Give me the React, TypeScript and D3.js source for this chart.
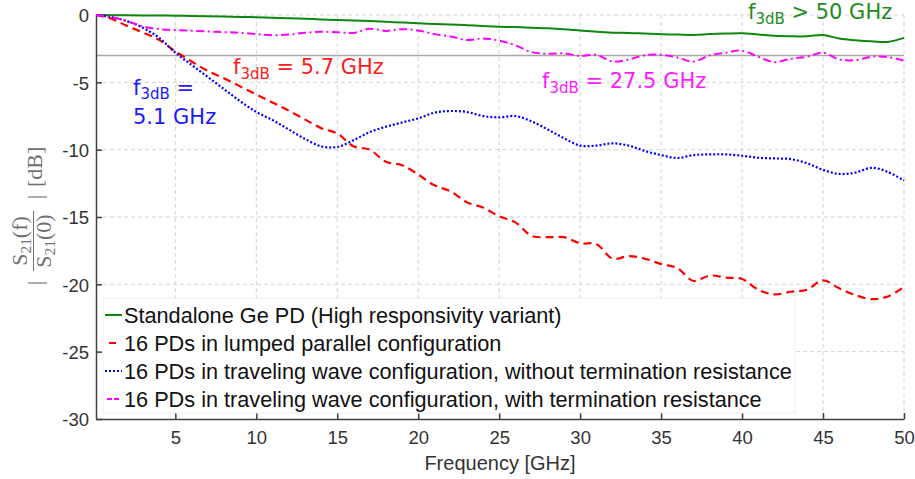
import React, { useEffect, useRef } from 'react';
import * as d3 from 'd3';

// frequency grid [GHz]
const freqGHz = [
  0.1, 1, 2, 3, 4, 5, 6, 7, 8, 9,
  10, 11, 12, 13, 14, 15, 16, 17, 18, 19,
  20, 21, 22, 23, 24, 25, 26, 27, 28, 29,
  30, 31, 32, 33, 34, 35, 36, 37, 38, 39,
  40, 41, 42, 43, 44, 45, 46, 47, 48, 49, 50,
];

// normalised |S21(f)/S21(0)| in dB
const standalone = [
  0, -0.01, -0.02, -0.03, -0.04, -0.05, -0.07, -0.09, -0.11, -0.14,
  -0.17, -0.2, -0.24, -0.28, -0.33, -0.37, -0.41, -0.45, -0.5, -0.56,
  -0.62, -0.66, -0.7, -0.76, -0.82, -0.87, -0.9, -0.95, -0.99, -1.06,
  -1.16, -1.25, -1.31, -1.33, -1.38, -1.43, -1.45, -1.48, -1.42, -1.38,
  -1.36, -1.45, -1.55, -1.58, -1.58, -1.48, -1.75, -1.88, -1.95, -2.0, -1.7,
];

const lumped = [
  0, -0.25, -0.8, -1.3, -1.85, -2.7, -3.45, -4.15, -4.7, -5.3,
  -5.9, -6.5, -7.1, -7.75, -8.4, -8.8, -9.75, -10.0, -10.9, -11.15,
  -11.85, -12.65, -13.1, -13.9, -14.3, -14.95, -15.4, -16.4, -16.5, -16.5,
  -16.95, -17.0, -18.1, -17.9, -18.1, -18.5, -18.8, -19.75, -19.35, -19.5,
  -19.6, -20.4, -20.75, -20.55, -20.4, -19.7, -20.3, -20.8, -21.1, -20.9, -20.2,
];

const travelingNoTerm = [
  0, -0.15, -0.45, -0.95, -1.7, -2.8, -3.7, -4.6, -5.5, -6.4,
  -7.2, -7.8, -8.5, -9.2, -9.75, -9.8, -9.3, -8.7, -8.3, -7.98,
  -7.68, -7.25, -7.13, -7.2, -7.5, -7.6, -7.5, -7.9, -8.5, -9.15,
  -9.7, -9.7, -9.53, -9.7, -10.1, -10.4, -10.62, -10.4, -10.35, -10.35,
  -10.45, -10.6, -10.65, -10.7, -11.0, -11.5, -11.8, -11.7, -11.35, -11.65, -12.3,
];

const travelingTerm = [
  0, -0.15, -0.45, -0.85, -1.05, -1.12, -1.17, -1.22, -1.27, -1.32,
  -1.42, -1.5, -1.45, -1.32, -1.25, -1.28, -1.33, -1.02, -1.18, -1.05,
  -1.15, -1.42, -1.6, -1.86, -1.74, -1.9, -2.25, -2.75, -2.88, -2.85,
  -3.04, -2.95, -3.45, -3.3, -2.98, -2.95, -3.15, -3.46, -3.0, -2.8,
  -2.65, -3.1, -3.5, -3.25, -3.1, -2.8, -3.3, -3.35, -3.1, -3.12, -3.39,
];

const xTicks = [5, 10, 15, 20, 25, 30, 35, 40, 45, 50];
const yTicks = [0, -5, -10, -15, -20, -25, -30];

const legendLabels = [
  'Standalone Ge PD (High responsivity variant)',
  '16 PDs in lumped parallel configuration',
  '16 PDs in traveling wave configuration, without termination resistance',
  '16 PDs in traveling wave configuration, with termination resistance',
];

const annotations = [
  { pre: 'f', sub: '3dB', post: ' > 50 GHz', x: 748, y: 19, color: '#1f8c1f', drop: 5 },
  { pre: 'f', sub: '3dB', post: ' = 5.7 GHz', x: 233, y: 74, color: '#ff1a1a', drop: 5 },
  { pre: 'f', sub: '3dB', post: ' = 27.5 GHz', x: 542, y: 88, color: '#ff1aff', drop: 5 },
  { pre: 'f', sub: '3dB', post: ' =', x: 133, y: 95, color: '#1a1aff', drop: 4 },
];

const W = 915;
const H = 479;
const sansFont = '"Liberation Sans", Arial, Helvetica, sans-serif';
const annoFont = '"DejaVu Sans", Verdana, sans-serif';
const serifFont = '"Liberation Serif", "Times New Roman", serif';

const App = () => {
  const chartRef = useRef<SVGSVGElement | null>(null);

  useEffect(() => {
    const svg = d3.select(chartRef.current);
    svg.selectAll('*').remove();

    const left = 96, right = 904, top = 15, bottom = 419;

    const x = d3.scaleLinear().domain([0.1, 50]).range([left, right]);
    const y = d3.scaleLinear().domain([-30, 0]).range([bottom, top]);

    svg.append('rect').attr('width', W).attr('height', H).attr('fill', 'white');

    // dashed grid
    const grid = svg.append('g').attr('stroke', '#d4d4d4').attr('stroke-width', 1)
      .attr('stroke-dasharray', '4,3');
    grid.selectAll('.vx').data(xTicks).join('line')
      .attr('x1', d => x(d)).attr('x2', d => x(d))
      .attr('y1', top).attr('y2', bottom);
    grid.selectAll('.hy').data(yTicks.filter(d => d > -30)).join('line')
      .attr('x1', left).attr('x2', right)
      .attr('y1', d => y(d)).attr('y2', d => y(d));

    // -3 dB reference
    svg.append('line')
      .attr('x1', left).attr('x2', right)
      .attr('y1', y(-3)).attr('y2', y(-3))
      .attr('stroke', '#a8a8a8').attr('stroke-width', 1.5);

    // axes
    const xAxis = svg.append('g')
      .attr('transform', `translate(0,${bottom})`)
      .call(d3.axisBottom(x).tickValues(xTicks).tickSizeInner(-6).tickSizeOuter(0)
        .tickPadding(12).tickFormat(d => String(d)));
    const yAxis = svg.append('g')
      .attr('transform', `translate(${left},0)`)
      .call(d3.axisLeft(y).tickValues(yTicks).tickSizeInner(-6).tickSizeOuter(0)
        .tickPadding(7).tickFormat(d => String(d)));
    [xAxis, yAxis].forEach(a => {
      a.selectAll('.domain, .tick line').attr('stroke', '#404040').attr('stroke-width', 1.5);
      a.selectAll('text').attr('fill', '#333').attr('font-size', 18.5).attr('font-family', sansFont);
    });
    yAxis.selectAll('text').attr('dy', '0.36em');

    svg.append('text')
      .attr('x', 500).attr('y', 470)
      .attr('text-anchor', 'middle')
      .attr('fill', '#333')
      .attr('font-family', sansFont)
      .attr('font-size', 20)
      .text('Frequency [GHz]');

    // y label: | S21(f)/S21(0) | [dB]
    const yl = svg.append('g')
      .attr('transform', 'translate(33,241) rotate(-90)')
      .attr('fill', '#707070')
      .attr('font-family', serifFont)
      .attr('font-size', 22);
    yl.append('text').attr('x', -42).attr('y', 9).attr('text-anchor', 'middle').text('|');
    yl.append('text').attr('x', 44).attr('y', 9).attr('text-anchor', 'middle').text('|');
    yl.append('text').attr('x', 54).attr('y', 9).text('[dB]');
    const num = yl.append('text').attr('x', 0).attr('y', -6).attr('text-anchor', 'middle');
    num.append('tspan').text('S');
    num.append('tspan').attr('font-size', 15.5).attr('dy', 4).text('21');
    num.append('tspan').attr('dy', -4).text('(f)');
    const den = yl.append('text').attr('x', 0).attr('y', 18).attr('text-anchor', 'middle');
    den.append('tspan').text('S');
    den.append('tspan').attr('font-size', 15.5).attr('dy', 4).text('21');
    den.append('tspan').attr('dy', -4).text('(0)');
    yl.append('line').attr('x1', -30).attr('x2', 30).attr('y1', 0.5).attr('y2', 0.5)
      .attr('stroke', '#707070').attr('stroke-width', 1);

    // series
    const series = [
      { values: standalone, color: '#0e870e', dash: null, width: 2 },
      { values: lumped, color: '#ff0000', dash: '8,5', width: 2.2 },
      { values: travelingNoTerm, color: '#0000ff', dash: '2,2', width: 2.2 },
      { values: travelingTerm, color: '#ff00ff', dash: '8,3.5,2,3.5', width: 2 },
    ];

    const line = d3.line<number>()
      .x((_, i) => x(freqGHz[i]))
      .y(d => y(d))
      .curve(d3.curveCatmullRom.alpha(0.5));

    series.forEach(s => {
      svg.append('path')
        .datum(s.values)
        .attr('fill', 'none')
        .attr('stroke', s.color)
        .attr('stroke-width', s.width)
        .attr('stroke-dasharray', s.dash)
        .attr('d', line);
    });

    // annotations
    annotations.forEach(a => {
      const t = svg.append('text')
        .attr('x', a.x).attr('y', a.y)
        .attr('fill', a.color)
        .attr('font-family', annoFont)
        .attr('font-size', 21);
      t.append('tspan').text(a.pre);
      t.append('tspan').attr('font-size', 15).attr('dy', a.drop).text(a.sub);
      t.append('tspan').attr('dy', -a.drop).text(a.post);
    });
    svg.append('text')
      .attr('x', 133).attr('y', 124)
      .attr('fill', '#1a1aff')
      .attr('font-family', annoFont)
      .attr('font-size', 21)
      .text('5.1 GHz');

    // legend
    const lg = svg.append('g');
    lg.append('rect')
      .attr('x', 103).attr('y', 298).attr('width', 692).attr('height', 115)
      .attr('fill', 'white').attr('stroke', '#efefef').attr('stroke-width', 1);
    legendLabels.forEach((label, i) => {
      const cy = 315 + i * 28;
      const s = series[i];
      lg.append('line')
        .attr('x1', 105).attr('x2', 122).attr('y1', cy).attr('y2', cy)
        .attr('stroke', s.color).attr('stroke-width', 2)
        .attr('stroke-dasharray', i === 1 ? '0,4,7,10' : i === 3 ? '0,2,5,2,5,10' : s.dash);
      lg.append('text')
        .attr('x', 124).attr('y', cy + 7.5)
        .attr('fill', '#111')
        .attr('font-family', sansFont)
        .attr('font-size', 21.7)
        .text(label);
    });
  }, []);

  return (
    <div style={{ position: 'absolute', left: 0, top: 0 }}>
      <svg ref={chartRef} width={W} height={H} style={{ display: 'block' }} />
    </div>
  );
};

export default App;
